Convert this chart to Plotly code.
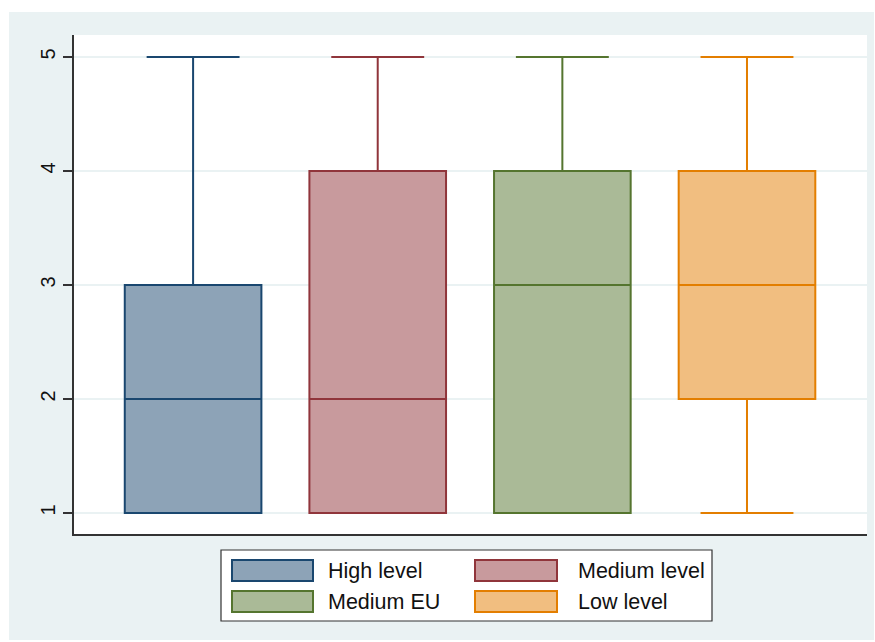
import plotly.graph_objects as go

# Five-number summaries per group
groups = ["High level", "Medium level", "Medium EU", "Low level"]
lower = [1, 1, 1, 1]
q1 = [1, 1, 1, 2]
median = [2, 2, 3, 3]
q3 = [3, 4, 4, 4]
upper = [5, 5, 5, 5]
y_ticks = [1, 2, 3, 4, 5]

line_colors = ["#1A476F", "#90353B", "#55752F", "#E37E00"]
fill_colors = ["#8DA3B7", "#C89A9D", "#AABA97", "#F1BE80"]

FONT = "Arial, Liberation Sans, sans-serif"
BG = "#EAF2F3"

fig = go.Figure()
for i, g in enumerate(groups):
    fig.add_trace(go.Box(
        x=[i], q1=[q1[i]], median=[median[i]], q3=[q3[i]],
        lowerfence=[lower[i]], upperfence=[upper[i]],
        name=g, width=0.74, whiskerwidth=0.68,
        fillcolor=fill_colors[i],
        line=dict(color=line_colors[i], width=2),
        boxpoints=False, showlegend=False, hoverinfo="skip",
    ))

W, H = 875, 642
ml, mr, mt, mb = 74, 8, 35, 108
pw, ph = W - ml - mr, H - mt - mb


def px_x(p):
    return (p - ml) / pw


def px_y(p):
    return (H - mb - p) / ph


shapes = [
    # light panel behind the whole graph
    dict(type="rect", xref="paper", yref="paper", layer="below",
         x0=px_x(9), x1=px_x(874), y0=px_y(640), y1=px_y(12),
         fillcolor=BG, line=dict(width=0)),
    # white plot region
    dict(type="rect", xref="paper", yref="paper", layer="below",
         x0=0, x1=1, y0=0, y1=1, fillcolor="white", line=dict(width=0)),
    # legend frame
    dict(type="rect", xref="paper", yref="paper",
         x0=px_x(221), x1=px_x(712), y0=px_y(621), y1=px_y(550),
         fillcolor="white", line=dict(color="#333333", width=1.2)),
]
annotations = []

# legend entries, two columns by two rows
col_x = [(232, 313, 326), (475, 557, 576)]
row_y = [(560, 581), (591, 612)]
for i, g in enumerate(groups):
    c, r = col_x[i % 2], row_y[i // 2]
    shapes.append(dict(type="rect", xref="paper", yref="paper",
                       x0=px_x(c[0]), x1=px_x(c[1]),
                       y0=px_y(r[1]), y1=px_y(r[0]),
                       fillcolor=fill_colors[i],
                       line=dict(color=line_colors[i], width=2)))
    annotations.append(dict(xref="paper", yref="paper", x=px_x(c[2]),
                            y=px_y((r[0] + r[1]) / 2), text=g,
                            showarrow=False, xanchor="left", yanchor="middle",
                            font=dict(family=FONT, size=21.5, color="#111111")))

fig.update_layout(
    width=W, height=H,
    margin=dict(l=ml, r=mr, t=mt, b=mb),
    paper_bgcolor="white", plot_bgcolor="rgba(0,0,0,0)",
    boxmode="overlay",
    shapes=shapes, annotations=annotations,
    xaxis=dict(range=[-0.645, 3.65], showticklabels=False, ticks="",
               showgrid=False, zeroline=False, showline=True,
               linecolor="#333333", linewidth=2, fixedrange=True),
    yaxis=dict(range=[1 - 21 / 114, 5 + 22 / 114], tickvals=y_ticks,
               ticks="outside", ticklen=9, tickwidth=1.5, tickcolor="#333333",
               tickangle=-90, showgrid=True, gridcolor=BG, gridwidth=2,
               zeroline=False, showline=True, linecolor="#333333",
               linewidth=2, tickfont=dict(family=FONT, size=20, color="#111111"),
               fixedrange=True),
)

fig.write_html("out.html")
